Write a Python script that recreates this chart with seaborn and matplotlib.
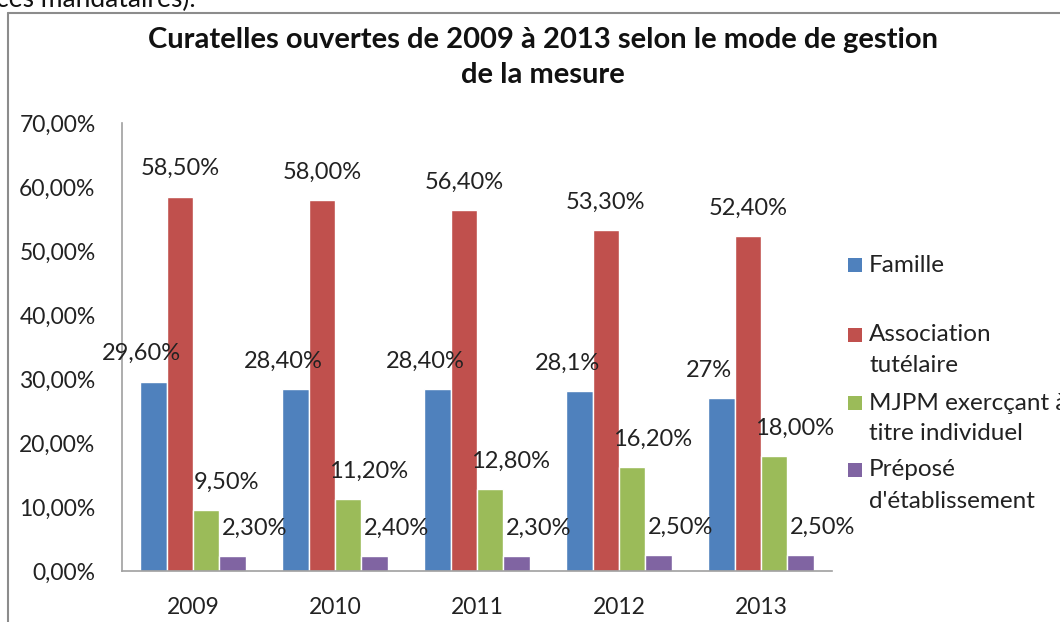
import numpy as np
import pandas as pd
import seaborn as sns
import matplotlib.pyplot as plt
from matplotlib.ticker import FuncFormatter
from matplotlib.patches import Rectangle
from matplotlib.lines import Line2D

# data
annees = ["2009", "2010", "2011", "2012", "2013"]
modes = ["Famille", "Association\ntutélaire", "MJPM exercçant à\ntitre individuel",
         "Préposé\nd'établissement"]
famille = [29.6, 28.4, 28.4, 28.1, 27.0]
association = [58.5, 58.0, 56.4, 53.3, 52.4]
mjpm = [9.5, 11.2, 12.8, 16.2, 18.0]
prepose = [2.3, 2.4, 2.3, 2.5, 2.5]
etiquettes = [
    ["29,60%", "28,40%", "28,40%", "28,1%", "27%"],
    ["58,50%", "58,00%", "56,40%", "53,30%", "52,40%"],
    ["9,50%", "11,20%", "12,80%", "16,20%", "18,00%"],
    ["2,30%", "2,40%", "2,30%", "2,50%", "2,50%"],
]
couleurs = ["#4F81BD", "#C0504D", "#9BBB59", "#8064A2"]

sns.set_style("white")
plt.rcParams["font.family"] = ["Lato", "DejaVu Sans"]

series = [famille, association, mjpm, prepose]
df = pd.DataFrame({
    "annee": annees * len(modes),
    "mode": np.repeat(modes, len(annees)),
    "valeur": np.concatenate(series),
})

fig = plt.figure(figsize=(10.6, 6.22), dpi=100)
ax = fig.add_axes([122 / 1060, 1 - 571 / 622, 710 / 1060, 448 / 622])

sns.barplot(data=df, x="annee", y="valeur", hue="mode", palette=couleurs,
            width=0.74, saturation=1, ax=ax, legend=False, errorbar=None)

ax.set_ylim(0, 70)
ax.set_xlim(-0.5, 4.5)
ax.set_yticks(range(0, 71, 10))
ax.yaxis.set_major_formatter(FuncFormatter(lambda v, p: f"{v:.2f}".replace(".", ",") + "%"))
ax.set_xlabel("")
ax.set_ylabel("")
ax.tick_params(axis="both", length=0, labelsize=16.5, colors="#222222")
ax.tick_params(axis="y", pad=19)
ax.tick_params(axis="x", pad=19)
for s in ["top", "right"]:
    ax.spines[s].set_visible(False)
for s in ["left", "bottom"]:
    ax.spines[s].set_color("#a0a0a0")
    ax.spines[s].set_linewidth(1.2)

# data labels, shifted a bit like in the original
decalages = [-9, 0, 15, 16]
for i, cont in enumerate(ax.containers):
    for bar, txt in zip(cont, etiquettes[i]):
        ax.annotate(txt, (bar.get_x() + bar.get_width() / 2, bar.get_height()),
                    xytext=(decalages[i], 20), textcoords="offset points",
                    ha="center", va="center", fontsize=17, color="#222222")

# title
titre_kw = dict(ha="center", va="center", fontsize=21, fontweight="bold", color="#111111")
fig.text(0.512, 1 - 40 / 622, "Curatelles ouvertes de 2009 à 2013 selon le mode de gestion", **titre_kw)
fig.text(0.512, 1 - 75 / 622, "de la mesure", **titre_kw)

# legend drawn by hand (Excel style, evenly spaced)
y_leg = [265, 335, 403, 470]
for nom, c, y in zip(modes, couleurs, y_leg):
    fig.patches.append(Rectangle((848 / 1060, 1 - (y + 7) / 622), 14 / 1060, 14 / 622,
                                 transform=fig.transFigure, facecolor=c, edgecolor="none"))
    for k, ligne in enumerate(nom.split("\n")):
        fig.text(869 / 1060, 1 - (y + 31 * k) / 622, ligne, ha="left", va="center",
                 fontsize=17.5, color="#222222")

# frame of the chart and cut text above it
fig.add_artist(Line2D([8 / 1060, 8 / 1060], [0, 1 - 13 / 622], color="#8c8c8c", lw=1.5))
fig.add_artist(Line2D([8 / 1060, 1], [1 - 13 / 622, 1 - 13 / 622], color="#8c8c8c", lw=1.5))
fig.text(-4 / 1060, 1 - 7 / 622, "ces mandataires).", ha="left", va="baseline",
         fontsize=19, color="#111111")

fig.savefig("out.png", dpi=100)
